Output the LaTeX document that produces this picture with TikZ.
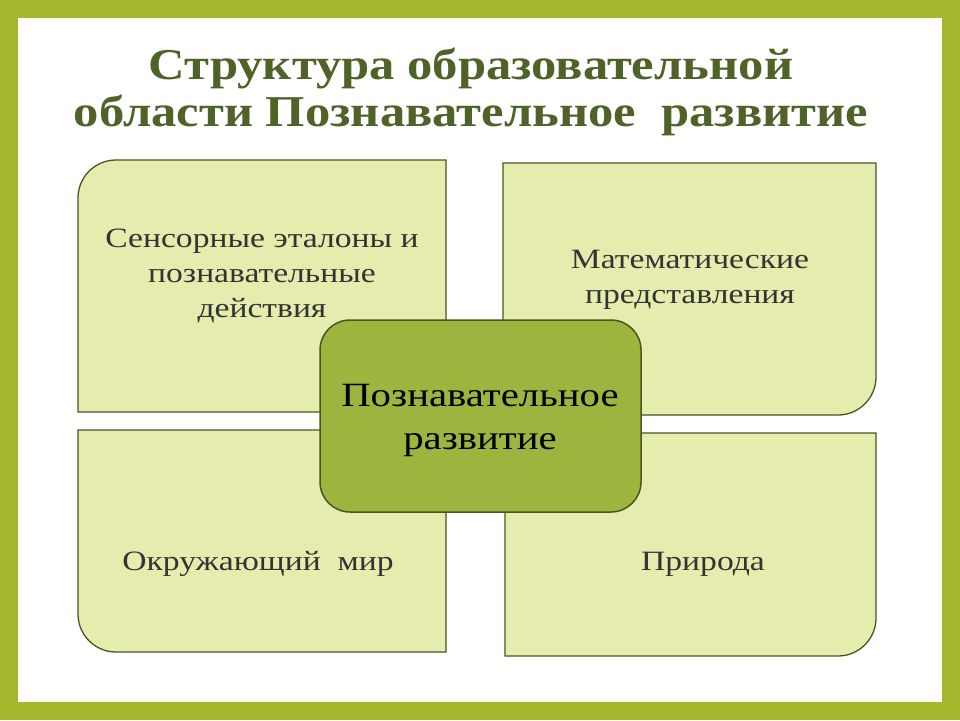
\documentclass[tikz,border=0pt]{standalone}
\usepackage{fontspec}
\setmainfont{Liberation Serif}
\newfontfamily\widefont[FakeStretch=1.2]{Liberation Serif}
\newfontfamily\titlefont[FakeStretch=1.15]{Liberation Serif}
\definecolor{frame}{HTML}{A5B52C}
\definecolor{titlec}{HTML}{4F6228}
\definecolor{boxf}{HTML}{E6ECAE}
\definecolor{boxd}{HTML}{4A5520}
\definecolor{cenf}{HTML}{9DB53E}
\tikzset{box/.style={draw=boxd,line width=1.3pt,fill=boxf},
  lbl/.style={align=center,font=\widefont\fontsize{28}{35}\selectfont,text=black!80},
  ttl/.style={align=center,font=\titlefont\fontsize{44}{47}\selectfont\bfseries,text=titlec}}
\begin{document}
\begin{tikzpicture}[x=1pt,y=-1pt]
\fill[frame] (0,0) rectangle (960,720);
\fill[white] (18,18) rectangle (942,702);
\useasboundingbox (0,0) rectangle (960,720);
\node[ttl] (title) at (471,92) {Структура образовательной\\области Познавательное\ \ развитие};
\draw[box] (446,160) [rounded corners=38]-- (78,160) [sharp corners]-- (78,412) -- (446,412) -- cycle;
\draw[box] (503,163) -- (876,163)[rounded corners=38] -- (876,415)[sharp corners] -- (503,415) -- cycle;
\draw[box] (78,430) -- (446,430) -- (446,652)[rounded corners=38] -- (78,652)[sharp corners] -- cycle;
\draw[box] (505,433) -- (876,433) [rounded corners=38]-- (876,656)[sharp corners] -- (505,656) -- cycle;
\draw[draw=boxd,line width=1.5pt,fill=cenf,rounded corners=30] (320,320) rectangle (641,512);
\node[lbl] (tl) at (262,276) {Сенсорные эталоны и\\познавательные\\действия};
\node[lbl] (tr) at (690,280) {Математические\\представления};
\node[lbl] (bl) at (258,564) {Окружающий\ \ мир};
\node[lbl] (br) at (703,564) {Природа};
\node[align=center,font=\widefont\fontsize{34}{43}\selectfont,text=black] (c) at (480,420) {Познавательное\\развитие};
\end{tikzpicture}
\end{document}
